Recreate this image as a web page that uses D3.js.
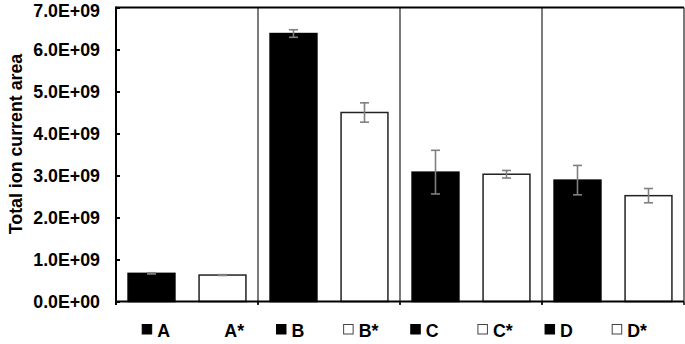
<!DOCTYPE html>
<html>
<head>
<meta charset="utf-8">
<script src="https://cdn.jsdelivr.net/npm/d3@7"></script>
<style>
    body { margin: 0; background: #fff; }
    text { font-family: "Liberation Sans", Arial, sans-serif; font-weight: bold; fill: #000; }
</style>
</head>
<body>
<div class="data_figure"></div>
<script>
// chart values
const categories = ["A", "A*", "B", "B*", "C", "C*", "D", "D*"];
const areaMean = [0.67e9, 0.63e9, 6.38e9, 4.50e9, 3.08e9, 3.03e9, 2.89e9, 2.52e9];
const areaErr = [0.015e9, 0.01e9, 0.09e9, 0.23e9, 0.52e9, 0.09e9, 0.35e9, 0.17e9];
const barFill = ["black", "white", "black", "white", "black", "white", "black", "white"];
const labelMarker = ["filled", "none", "filled", "open", "filled", "open", "filled", "open"];
const yTicks = [0, 1e9, 2e9, 3e9, 4e9, 5e9, 6e9, 7e9];
const yTitle = "Total ion current area";

const widthMax = 685;
const heightMax = 344;

const margin = {
    top: 7.5,
    bottom: 42.5,
    left: 116,
    right: 1,
}
const width = widthMax - margin.left - margin.right;
const height = heightMax - margin.top - margin.bottom;

const fontSize = "17.8px";

// 7.0E+09 style labels
function sciFmt(v) {
    if (v === 0) return "0.0E+00";
    const e = Math.floor(Math.log10(Math.abs(v)));
    const m = v / Math.pow(10, e);
    return m.toFixed(1) + "E" + (e < 0 ? "-" : "+") + String(Math.abs(e)).padStart(2, "0");
}

const data = categories.map((c, i) => ({
    cat: c,
    mean: areaMean[i],
    err: areaErr[i],
    fill: barFill[i],
    marker: labelMarker[i],
}));

const svg = d3.select(".data_figure")
            .append("svg")
            .attr("width", widthMax)
            .attr("height", heightMax);

const x = d3.scaleBand()
            .domain(categories)
            .range([margin.left, margin.left + width])
            .paddingInner(0.34)
            .paddingOuter(0.17);

const y = d3.scaleLinear()
            .domain([0, 7e9])
            .range([margin.top + height, margin.top]);

// group separators (between pairs)
const step = x.step();
const groupEdges = d3.range(0, categories.length + 1, 2)
                    .map((i) => margin.left + i * step);

svg.append("g")
    .attr("class", "separators")
    .selectAll("line")
    .data(groupEdges.slice(1, -1))
    .enter()
        .append("line")
        .attr("x1", (d) => d)
        .attr("x2", (d) => d)
        .attr("y1", y(7e9))
        .attr("y2", y(0) + 3)
        .attr("stroke", "#333")
        .attr("stroke-width", 1.3);

// bottom ticks at group edges
svg.append("g")
    .selectAll("line")
    .data(groupEdges)
    .enter()
        .append("line")
        .attr("x1", (d) => d)
        .attr("x2", (d) => d)
        .attr("y1", y(0))
        .attr("y2", y(0) + 3.5)
        .attr("stroke", "#000")
        .attr("stroke-width", 1.5);

// bars
svg.append("g")
    .attr("class", "bars")
    .selectAll("rect")
    .data(data)
    .enter()
        .append("rect")
        .attr("x", (d) => x(d.cat))
        .attr("y", (d) => y(d.mean))
        .attr("width", x.bandwidth())
        .attr("height", (d) => y(0) - y(d.mean))
        .attr("fill", (d) => d.fill)
        .attr("stroke", (d) => d.fill === "black" ? "#000" : "#222")
        .attr("stroke-width", 1.5);

// error bars
const capW = 9;
const errG = svg.append("g")
                .attr("class", "errors")
                .attr("stroke", "#808080")
                .attr("stroke-width", 1.6);
const errSel = errG.selectAll("g")
                    .data(data)
                    .enter()
                    .append("g")
                    .attr("transform", (d) => "translate(" + (x(d.cat) + x.bandwidth() / 2) + ",0)");
errSel.append("line")
        .attr("y1", (d) => y(d.mean + d.err))
        .attr("y2", (d) => y(d.mean - d.err));
errSel.append("line")
        .attr("x1", -capW / 2).attr("x2", capW / 2)
        .attr("y1", (d) => y(d.mean + d.err))
        .attr("y2", (d) => y(d.mean + d.err));
errSel.append("line")
        .attr("x1", -capW / 2).attr("x2", capW / 2)
        .attr("y1", (d) => y(d.mean - d.err))
        .attr("y2", (d) => y(d.mean - d.err));

// frame: top, right, bottom
svg.append("line")
    .attr("x1", margin.left).attr("x2", margin.left + width)
    .attr("y1", y(7e9)).attr("y2", y(7e9))
    .attr("stroke", "#000").attr("stroke-width", 2);
svg.append("line")
    .attr("x1", margin.left + width).attr("x2", margin.left + width)
    .attr("y1", y(7e9)).attr("y2", y(0))
    .attr("stroke", "#333").attr("stroke-width", 1.3);
svg.append("line")
    .attr("x1", margin.left).attr("x2", margin.left + width)
    .attr("y1", y(0)).attr("y2", y(0))
    .attr("stroke", "#000").attr("stroke-width", 2);

// y axis
const yAxis = d3.axisLeft(y)
                .tickValues(yTicks)
                .tickFormat(sciFmt)
                .tickSizeInner(-4)
                .tickSizeOuter(0)
                .tickPadding(16);
const yG = svg.append("g")
                .attr("transform", "translate(" + margin.left + ",0)")
                .call(yAxis);
yG.select(".domain")
    .attr("stroke", "#000")
    .attr("stroke-width", 2)
    .attr("d", "M0," + (y(7e9) - 1) + "V" + (y(0) + 3.5));
yG.selectAll(".tick line").attr("stroke", "#000").attr("stroke-width", 2);
yG.selectAll(".tick text")
    .attr("font-family", null)
    .attr("dy", (d) => d === 7e9 ? "0.48em" : "0.34em")
    .style("font-size", fontSize)
    .style("font-weight", "bold");

// y title
svg.append("text")
    .text(yTitle)
    .attr("transform", "translate(22," + 144 + ") rotate(-90)")
    .attr("text-anchor", "middle")
    .style("font-size", fontSize);

// category labels with legend squares
const labelX = d3.scalePoint()
                .domain(categories)
                .range([141.7, 611.7]);
const labelY = 336.5;
const sq = 9.5;
const labels = svg.append("g")
                    .attr("class", "cat-labels")
                    .selectAll("g")
                    .data(data)
                    .enter()
                    .append("g")
                    .attr("transform", (d) => "translate(" + labelX(d.cat) + "," + labelY + ")");
labels.filter((d) => d.marker !== "none")
        .append("rect")
        .attr("x", 0.5)
        .attr("y", -12)
        .attr("width", sq)
        .attr("height", sq)
        .attr("fill", (d) => d.marker === "filled" ? "#000" : "#fff")
        .attr("stroke", (d) => d.marker === "filled" ? "#000" : "#444")
        .attr("stroke-width", 1);
labels.append("text")
        .attr("x", 15.5)
        .text((d) => d.cat)
        .style("font-size", fontSize);
</script>
</body>
</html>
